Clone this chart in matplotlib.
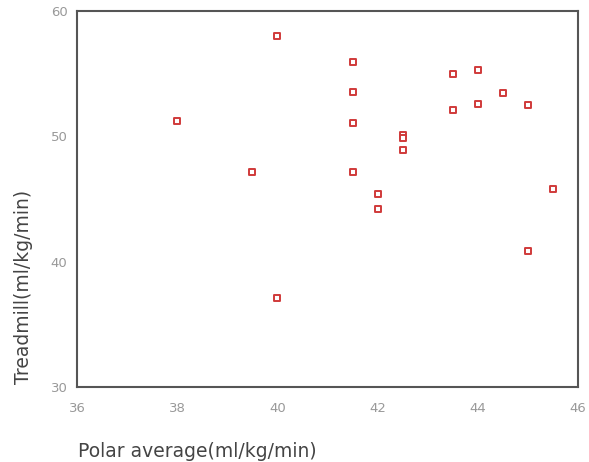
import matplotlib.pyplot as plt

polar = [38.0, 39.5, 40.0, 40.0, 41.5, 41.5, 41.5, 41.5, 42.0, 42.0,
         42.5, 42.5, 42.5, 43.5, 43.5, 44.0, 44.0, 44.5, 45.0, 45.0, 45.5]
treadmill = [51.2, 47.15, 58.0, 37.15, 55.95, 53.55, 51.1, 47.15, 45.4, 44.2,
             50.15, 49.9, 48.95, 54.95, 52.1, 55.3, 52.6, 53.45, 52.5, 40.9, 45.8]

xticks = [36, 38, 40, 42, 44, 46]
yticks = [30, 40, 50, 60]

plt.rcParams['font.family'] = ['DejaVu Sans']

fig = plt.figure(figsize=(5.89, 4.62), dpi=100)
ax = fig.add_axes([0.131, 0.162, 0.850, 0.814])

ax.scatter(polar, treadmill, marker='s', s=18, facecolors='white',
           edgecolors='#d03a3a', linewidths=1.4, zorder=3)

ax.set_xlim(36, 46)
ax.set_ylim(30, 60)
ax.set_xticks(xticks)
ax.set_yticks(yticks)
ax.tick_params(axis='y', length=0, colors='#999999', labelsize=9.5, pad=7)
ax.tick_params(axis='x', length=0, colors='#999999', labelsize=9.5, pad=11)

for side in ['left', 'bottom', 'top', 'right']:
    ax.spines[side].set_color('#555555')
    ax.spines[side].set_linewidth(1.5)

fig.text(0.133, 0.022, 'Polar average(ml/kg/min)', fontsize=13.5, color='#444444',
         ha='left', va='center')
fig.text(0.040, 0.38, 'Treadmill(ml/kg/min)', fontsize=13.5, color='#444444',
         rotation=90, ha='center', va='center')

fig.savefig('out.png', dpi=100)
